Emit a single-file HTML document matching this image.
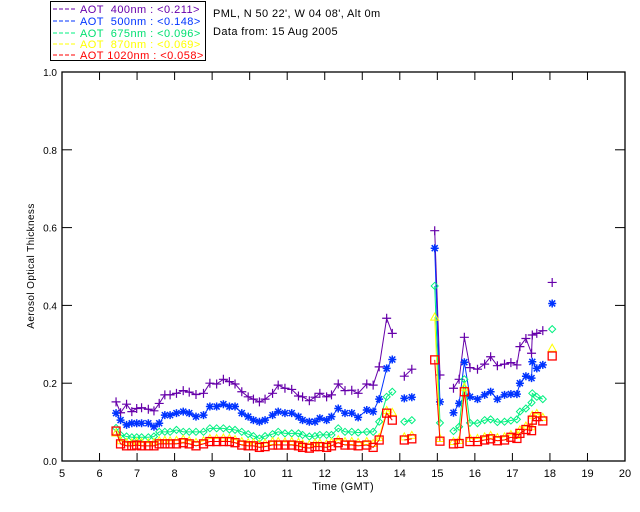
<!DOCTYPE html>
<html><head><meta charset="utf-8">
<style>
html,body{margin:0;padding:0;background:#fff;}
svg{display:block;font-family:"Liberation Sans","DejaVu Sans",sans-serif;}
</style></head>
<body>
<svg id="chart" width="640" height="512" viewBox="0 0 640 512" xmlns="http://www.w3.org/2000/svg">
<rect x="0" y="0" width="640" height="512" fill="#fff"/>
<g>
<rect x="50.5" y="1.5" width="155" height="59" fill="none" stroke="#000" stroke-width="1"/>
<g font-size="11" letter-spacing="0.45">
<line x1="53" y1="9" x2="75" y2="9" stroke="#6600aa" stroke-dasharray="4,2"/>
<text x="80" y="13" fill="#6600aa" xml:space="preserve">AOT  400nm : &lt;0.211&gt;</text>
<line x1="53" y1="21" x2="75" y2="21" stroke="#0033ff" stroke-dasharray="4,2"/>
<text x="80" y="25" fill="#0033ff" xml:space="preserve">AOT  500nm : &lt;0.148&gt;</text>
<line x1="53" y1="33" x2="75" y2="33" stroke="#00f080" stroke-dasharray="4,2"/>
<text x="80" y="37" fill="#00e070" xml:space="preserve">AOT  675nm : &lt;0.096&gt;</text>
<line x1="53" y1="44" x2="75" y2="44" stroke="#ffff00" stroke-dasharray="4,2"/>
<text x="80" y="48" fill="#ffff00" xml:space="preserve">AOT  870nm : &lt;0.069&gt;</text>
<line x1="53" y1="55" x2="75" y2="55" stroke="#ff0000" stroke-dasharray="4,2"/>
<text x="80" y="59" fill="#ff0000" xml:space="preserve">AOT 1020nm : &lt;0.058&gt;</text>
</g>
</g>
<text x="213" y="17" font-size="11" letter-spacing="0.4" fill="#000">PML, N 50 22', W 04 08', Alt 0m</text>
<text x="213" y="35" font-size="11" letter-spacing="0.4" fill="#000">Data from: 15 Aug 2005</text>
<rect x="62" y="72" width="563" height="389" fill="none" stroke="#000" stroke-width="1.3"/>
<g id="axes"></g>
<g id="series"></g>
<text x="343" y="490" font-size="11" letter-spacing="0.3" text-anchor="middle">Time (GMT)</text>
<text x="0" y="0" font-size="10" letter-spacing="0.4" text-anchor="middle" transform="translate(34,266) rotate(-90)">Aerosol Optical Thickness</text>
</svg>
<script>
const times = [6.44,6.56,6.72,6.86,6.99,7.12,7.30,7.45,7.59,7.74,7.88,8.05,8.23,8.39,8.57,8.77,8.94,9.12,9.30,9.46,9.61,9.79,9.96,10.10,10.26,10.41,10.61,10.76,10.94,11.12,11.30,11.41,11.59,11.74,11.87,12.05,12.18,12.36,12.54,12.72,12.89,13.12,13.29,13.45,13.65,13.80,null,14.12,14.32,null,14.93,15.07,null,15.43,15.58,15.72,15.87,16.07,16.26,16.42,16.60,16.79,16.96,17.12,17.20,17.36,17.51,17.53,17.65,17.81,null,18.06];
const aot400 = [0.152,0.124,0.146,0.127,0.135,0.137,0.133,0.129,0.148,0.170,0.170,0.174,0.181,0.177,0.171,0.174,0.200,0.198,0.210,0.204,0.198,0.178,0.165,0.159,0.152,0.159,0.174,0.195,0.187,0.184,0.167,0.165,0.155,0.164,0.174,0.165,0.170,0.198,0.181,0.182,0.174,0.198,0.195,0.242,0.367,0.328,null,0.218,0.236,null,0.592,0.221,null,0.187,0.21,0.318,0.24,0.236,0.249,0.268,0.245,0.249,0.253,0.247,0.294,0.315,0.277,0.324,0.328,0.335,null,0.459];
const aot500 = [0.123,0.105,0.093,0.097,0.097,0.097,0.097,0.088,0.097,0.118,0.118,0.123,0.127,0.123,0.114,0.118,0.140,0.140,0.146,0.140,0.140,0.123,0.114,0.105,0.101,0.105,0.118,0.127,0.123,0.123,0.114,0.105,0.101,0.101,0.110,0.105,0.114,0.135,0.123,0.123,0.112,0.131,0.127,0.159,0.238,0.261,null,0.161,0.164,null,0.547,0.152,null,0.124,0.148,0.254,0.165,0.159,0.170,0.178,0.159,0.170,0.172,0.172,0.200,0.218,0.213,0.255,0.238,0.247,null,0.405];
const aot675 = [0.085,0.067,0.063,0.061,0.061,0.061,0.061,0.063,0.075,0.075,0.075,0.080,0.075,0.075,0.075,0.075,0.084,0.084,0.084,0.081,0.080,0.075,0.069,0.064,0.058,0.064,0.069,0.075,0.071,0.071,0.071,0.067,0.063,0.064,0.067,0.067,0.067,0.084,0.075,0.075,0.073,0.075,0.075,0.101,0.165,0.178,null,0.101,0.105,null,0.45,0.098,null,0.077,0.088,0.21,0.098,0.097,0.105,0.107,0.100,0.101,0.104,0.107,0.127,0.135,0.150,0.174,0.165,0.159,null,0.339];
const aot870 = [0.072,0.052,0.048,0.047,0.049,0.048,0.047,0.048,0.052,0.053,0.052,0.053,0.056,0.052,0.048,0.052,0.058,0.058,0.059,0.058,0.055,0.050,0.047,0.047,0.044,0.046,0.050,0.050,0.049,0.050,0.048,0.044,0.042,0.046,0.046,0.044,0.048,0.055,0.050,0.050,0.048,0.050,0.045,0.060,0.130,0.125,null,0.062,0.066,null,0.37,0.058,null,0.050,0.053,0.19,0.058,0.058,0.062,0.066,0.060,0.062,0.068,0.066,0.080,0.090,0.088,0.118,0.122,0.112,null,0.29];
const aot1020 = [0.077,0.044,0.039,0.039,0.041,0.039,0.039,0.039,0.044,0.044,0.044,0.044,0.047,0.044,0.039,0.044,0.050,0.050,0.050,0.050,0.047,0.041,0.039,0.039,0.035,0.037,0.041,0.041,0.041,0.041,0.039,0.035,0.033,0.037,0.037,0.035,0.039,0.047,0.041,0.041,0.039,0.041,0.035,0.054,0.123,0.105,null,0.054,0.057,null,0.26,0.051,null,0.044,0.045,0.178,0.050,0.050,0.054,0.057,0.052,0.054,0.061,0.058,0.071,0.081,0.078,0.105,0.114,0.103,null,0.27];
const xTicks = [5,6,7,8,9,10,11,12,13,14,15,16,17,18,19,20];
const yTicks = [0,0.2,0.4,0.6,0.8,1.0];
const yTickLabels = ["0.0","0.2","0.4","0.6","0.8","1.0"];

const NS="http://www.w3.org/2000/svg";
const X0=62,X1=625,Y0=461,Y1=72;
function xs(t){return X0+(t-5)/(20-5)*(X1-X0);}
function ys(v){return Y0-(v-0)/(1-0)*(Y0-Y1);}
function mk(tag,attrs,parent){const e=document.createElementNS(NS,tag);for(const k in attrs)e.setAttribute(k,attrs[k]);parent.appendChild(e);return e;}
const axes=document.getElementById('axes');
xTicks.forEach((t,i)=>{
  const x=xs(t);
  if(i>0&&i<xTicks.length-1){
    const a=mk('line',{x1:x,y1:Y0,x2:x,y2:Y0-8,stroke:'#000'},axes);
    
    
    const b=mk('line',{x1:x,y1:Y1,x2:x,y2:Y1+8,stroke:'#000'},axes);
    
    
  }
  const l=mk('text',{x:x,y:477,'font-size':11,'text-anchor':'middle'},axes);
  l.textContent=String(t);
  
  
});
yTicks.forEach((v,i)=>{
  const y=ys(v);
  if(i>0&&i<yTicks.length-1){
    const a=mk('line',{x1:X0,y1:y,x2:X0+10,y2:y,stroke:'#000'},axes);
    
    
    const b=mk('line',{x1:X1,y1:y,x2:X1-10,y2:y,stroke:'#000'},axes);
    
    
  }
  const l=mk('text',{x:57,y:y+4,'font-size':10,'text-anchor':'end'},axes);
  l.textContent=yTickLabels[i];
  
  
});
const seriesG=document.getElementById('series');
function marker(type,x,y,c,g){
  let e;
  if(type==='plus'){e=mk('path',{d:`M${x-4.5},${y}H${x+4.5}M${x},${y-4.5}V${y+4.5}`,stroke:c,'stroke-width':1.2,fill:'none'},g);}
  else if(type==='star'){e=mk('path',{d:`M${x-4},${y}H${x+4}M${x},${y-4}V${y+4}M${x-3},${y-3}L${x+3},${y+3}M${x-3},${y+3}L${x+3},${y-3}`,stroke:c,'stroke-width':1.5,fill:'none'},g);}
  else if(type==='diamond'){e=mk('path',{d:`M${x},${y-3.5}L${x+3.5},${y}L${x},${y+3.5}L${x-3.5},${y}Z`,stroke:c,'stroke-width':1,fill:'none'},g);}
  else if(type==='tri'){e=mk('path',{d:`M${x},${y-4}L${x+4},${y+3}L${x-4},${y+3}Z`,stroke:c,'stroke-width':1,fill:'none'},g);}
  else {e=mk('rect',{x:x-4,y:y-4,width:8,height:8,stroke:c,'stroke-width':1.3,fill:'none'},g);}
  
  
}
function drawSeries(vals,color,type,name){
  const g=mk('g',{},seriesG);
  
  
  let segs=[],cur=[];
  for(let i=0;i<times.length;i++){
    if(times[i]===null||vals[i]===null){if(cur.length)segs.push(cur);cur=[];continue;}
    cur.push([xs(times[i]),ys(vals[i])]);
  }
  if(cur.length)segs.push(cur);
  segs.forEach(s=>{
    if(s.length>1){
      const p=mk('polyline',{points:s.map(q=>q.join(',')).join(' '),stroke:color,'stroke-width':1,fill:'none'},g);
      
      
    }
  });
  segs.forEach(s=>s.forEach(q=>marker(type,q[0],q[1],color,g)));
}
drawSeries(aot400,'#6600aa','plus','series-400nm');
drawSeries(aot500,'#0033ff','star','series-500nm');
drawSeries(aot675,'#00f080','diamond','series-675nm');
drawSeries(aot870,'#ffff00','tri','series-870nm');
drawSeries(aot1020,'#ff0000','square','series-1020nm');
</script>
</body></html>
